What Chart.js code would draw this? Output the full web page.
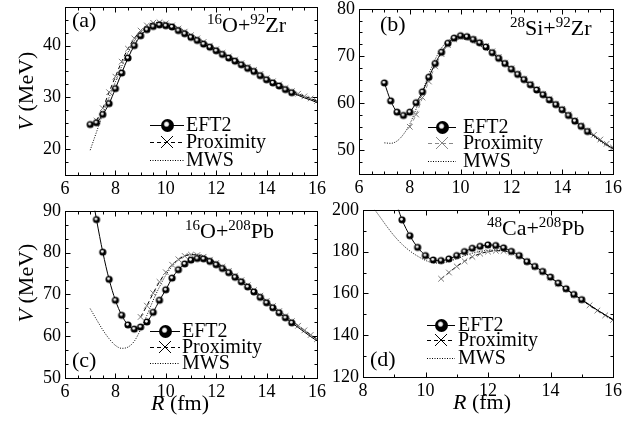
<!DOCTYPE html>
<html>
<head>
<meta charset="utf-8">
<script src="https://cdn.jsdelivr.net/npm/chart.js@4.4.1/dist/chart.umd.min.js"></script>
<style>
  body { margin: 0; background: #fff; width: 639px; height: 425px; position: relative; overflow: hidden; font-family: "Liberation Serif", serif; }
  canvas { position: absolute; }
  .t { position: absolute; white-space: nowrap; font-size: 22px; line-height: 22px; color: #000; }
  .t sup { font-size: 15px; line-height: 0; vertical-align: baseline; position: relative; top: -8px; }
  .ax { position: absolute; white-space: nowrap; font-size: 22px; line-height: 22px; color: #000; }
</style>
</head>
<body>
<canvas id="pa"></canvas>
<canvas id="pb"></canvas>
<canvas id="pc"></canvas>
<canvas id="pd"></canvas>

<div class="t" style="left:72px;top:9px">(a)</div>
<div class="t" style="left:207px;top:14px"><sup>16</sup>O+<sup>92</sup>Zr</div>
<div class="t" style="left:380px;top:13px">(b)</div>
<div class="t" style="left:510px;top:17px"><sup>28</sup>Si+<sup>92</sup>Zr</div>
<div class="t" style="left:185px;top:220px"><sup>16</sup>O+<sup>208</sup>Pb</div>
<div class="t" style="left:72px;top:349px">(c)</div>
<div class="t" style="left:487px;top:217px"><sup>48</sup>Ca+<sup>208</sup>Pb</div>
<div class="t" style="left:370px;top:348px">(d)</div>

<div class="ax" style="left:26px;top:91px;transform:translate(-50%,-50%) rotate(-90deg)"><i>V</i> (MeV)</div>
<div class="ax" style="left:26px;top:283px;transform:translate(-50%,-50%) rotate(-90deg)"><i>V</i> (MeV)</div>
<div class="ax" style="left:180px;top:403px;transform:translate(-50%,-50%)"><i>R</i> (fm)</div>
<div class="ax" style="left:482px;top:402px;transform:translate(-50%,-50%)"><i>R</i> (fm)</div>

<script>
// distance grids (fm)
const R7 = [7, 7.25, 7.5, 7.75, 8, 8.25, 8.5, 8.75, 9, 9.25, 9.5, 9.75, 10, 10.25, 10.5, 10.75,
            11, 11.25, 11.5, 11.75, 12, 12.25, 12.5, 12.75, 13, 13.25, 13.5, 13.75, 14, 14.25,
            14.5, 14.75, 15, 15.25, 15.5, 15.75, 16];
const R8 = [8, 8.25, 8.5, 8.75, 9, 9.25, 9.5, 9.75, 10, 10.25, 10.5, 10.75, 11, 11.25, 11.5,
            11.75, 12, 12.25, 12.5, 12.75, 13, 13.25, 13.5, 13.75, 14, 14.25, 14.5, 14.75, 15,
            15.25, 15.5, 15.75, 16];

const seriesNames = ['EFT2', 'Proximity', 'MWS'];

// (a) 16O+92Zr
const eftA  = [24.75, 25.1, 26.7, 28.8, 31.7, 34.7, 37.6, 40.0, 41.9, 43.1, 43.7, 44.0, 43.85, 43.6,
               42.9, 42.3, 41.6, 41.0, 40.3, 39.7, 39.0, 38.3, 37.6, 37.0, 36.3, 35.6, 35.0, 34.2,
               33.4, 32.8, 32.2, 31.5, 30.9, 30.4, 29.9, 29.5, 29.0];
const proxA = [null, 25.5, 27.9, 31.0, 34.0, 36.9, 39.4, 41.4, 42.9, 43.9, 44.4, 44.5, 44.3, 43.9,
               43.3, 42.7, 42.0, 41.4, 40.7, 40.0, 39.3, 38.6, 37.9, 37.3, 36.6, 35.9, 35.3, 34.5,
               33.7, 33.1, 32.5, 31.8, 31.2, 30.7, 30.2, 29.8, 29.3];
const mwsA  = [19.8, 23.3, 26.8, 30.0, 33.0, 36.0, 38.7, 40.9, 42.6, 43.7, 44.3, 44.5, 44.4, 44.0,
               43.4, 42.8, 42.1, 41.4, 40.7, 40.0, 39.3, 38.6, 37.9, 37.2, 36.5, 35.8, 35.2, 34.4,
               33.6, 33.0, 32.4, 31.7, 31.1, 30.6, 30.1, 29.7, 29.2];

// (b) 28Si+92Zr
const eftB  = [64.3, 60.5, 58.1, 57.4, 58.1, 60.1, 62.4, 65.5, 68.4, 70.8, 72.7, 73.8, 74.3, 74.1,
               73.5, 72.8, 71.9, 70.7, 69.5, 68.4, 67.2, 66.1, 65.0, 63.9, 62.8, 61.8, 60.7, 59.7,
               58.6, 57.4, 56.2, 55.1, 54.0, 53.1, 52.1, 51.2, 50.4];
const proxB = [null, null, null, null, 55.0, 57.6, 61.2, 64.6, 67.8, 70.4, 72.3, 73.5, 74.0, 74.0,
               73.6, 72.9, 72.1, 71.0, 69.8, 68.6, 67.4, 66.3, 65.2, 64.1, 63.0, 62.0, 60.9, 59.9,
               58.8, 57.6, 56.4, 55.3, 54.2, 53.3, 52.3, 51.4, 50.6];
const mwsB  = [51.6, 51.5, 52.0, 53.4, 55.6, 58.8, 62.5, 66.2, 69.3, 71.7, 73.2, 73.9, 73.9, 73.5,
               72.9, 72.2, 71.4, 70.4, 69.3, 68.2, 67.0, 65.9, 64.8, 63.7, 62.6, 61.6, 60.5, 59.5,
               58.4, 57.2, 56.0, 54.9, 53.8, 52.9, 51.9, 51.0, 50.2];

// (c) 16O+208Pb
const eftC  = [96.5, 87.9, 80.1, 73.6, 68.6, 65.0, 62.7, 61.7, 62.2, 63.4, 65.7, 68.6, 71.1, 73.9,
               75.9, 77.3, 78.2, 78.6, 78.5, 77.9, 77.1, 76.2, 75.2, 74.1, 73.0, 71.8, 70.6, 69.3,
               68.0, 66.8, 65.6, 64.4, 63.2, 62.1, 61.0, 59.9, 58.9];
const proxC = [null, null, null, null, null, null, null, null, 64.6, 67.3, 70.3, 73.0, 75.3, 77.1,
               78.4, 79.2, 79.5, 79.4, 79.0, 78.3, 77.5, 76.6, 75.6, 74.5, 73.4, 72.2, 71.0, 69.7,
               68.4, 67.2, 66.0, 64.8, 63.6, 62.5, 61.4, 60.3, 59.3];
const mwsC  = [66.6, 64.0, 61.5, 59.4, 57.8, 57.1, 57.4, 58.8, 61.6, 65.0, 68.6, 71.8, 74.6, 76.7,
               78.2, 79.1, 79.6, 79.6, 79.2, 78.5, 77.6, 76.7, 75.7, 74.6, 73.5, 72.3, 71.1, 69.8,
               68.5, 67.3, 66.1, 64.9, 63.7, 62.6, 61.5, 60.4, 59.4];

// (d) 48Ca+208Pb
const eftD  = [null, null, null, null, 206.0, 195.2, 187.6, 182.0, 178.1, 176.0, 175.7, 176.5, 178.1,
               180.0, 181.6, 182.5, 183.2, 182.9, 181.8, 180.1, 178.1, 175.2, 172.9, 170.5, 167.8,
               164.9, 162.2, 159.5, 157.0, 154.5, 152.0, 149.7, 147.5];
const proxD = [null, null, null, null, null, null, null, null, null, null, 167.0, 170.0, 172.9,
               175.4, 177.5, 179.0, 180.0, 180.4, 180.3, 179.6, 178.0, 175.3, 172.8, 170.3, 167.6,
               164.7, 162.0, 159.3, 156.8, 154.3, 151.8, 149.5, 147.3];
const mwsD  = [null, 202.5, 197.5, 192.3, 187.5, 183.5, 180.3, 177.8, 175.8, 174.6, 174.5, 175.3,
               176.6, 178.0, 179.2, 180.1, 180.6, 180.7, 180.4, 179.5, 178.0, 175.4, 172.9, 170.4,
               167.7, 164.8, 162.1, 159.4, 156.9, 154.4, 151.9, 149.6, 147.4];

// tick labels
const xTicks6 = [6, 8, 10, 12, 14, 16];
const xTicks8 = [8, 10, 12, 14, 16];
const yTicksA = [20, 30, 40];
const yTicksB = [50, 60, 70, 80];
const yTicksC = [50, 60, 70, 80, 90];
const yTicksD = [120, 140, 160, 180, 200];

Chart.defaults.font.family = '"Liberation Serif", serif';
Chart.defaults.font.size = 18;
Chart.defaults.color = '#000';

// black sphere marker with a white highlight
function ball(r, spot) {
  const c = document.createElement('canvas');
  c.width = c.height = Math.ceil(2 * r) + 2;
  const g = c.getContext('2d'), m = c.width / 2;
  g.fillStyle = '#000';
  g.beginPath(); g.arc(m, m, r, 0, Math.PI * 2); g.fill();
  const hx = m - r * 0.15, hy = m - r * 0.2;
  const h = g.createRadialGradient(hx, hy, 0, hx, hy, spot);
  h.addColorStop(0, 'rgba(255,255,255,1)');
  h.addColorStop(0.55, 'rgba(255,255,255,0.9)');
  h.addColorStop(1, 'rgba(255,255,255,0)');
  g.fillStyle = h; g.beginPath(); g.arc(m, m, r, 0, Math.PI * 2); g.fill();
  return c;
}
const smallBall = ball(3.6, 1.8);
const bigBall = ball(6.5, 3.2);

function pts(rs, vs) {
  return rs.map((r, i) => ({ x: r, y: vs[i] })).filter(p => p.y !== null);
}

// box frame + inward major/minor ticks on all four sides
const frame = {
  id: 'frame',
  afterDraw(chart, args, o) {
    const { ctx, chartArea: a } = chart;
    const sx = chart.scales.x, sy = chart.scales.y;
    ctx.save();
    ctx.strokeStyle = '#000';
    ctx.lineWidth = 1;
    const L = Math.round(a.left) + 0.5, T = Math.round(a.top) + 0.5;
    const Rr = Math.round(a.right) + 0.5, B = Math.round(a.bottom) + 0.5;
    ctx.strokeRect(L, T, Rr - L, B - T);
    ctx.beginPath();
    const isMaj = (v, step) => Math.abs(v / step - Math.round(v / step)) < 1e-6;
    let n = Math.round((sx.max - sx.min) / o.xMinor);
    for (let k = 0; k <= n; k++) {
      const v = sx.min + k * o.xMinor;
      const p = Math.round(sx.getPixelForValue(v)) + 0.5;
      const len = isMaj(v, o.xMajor) ? 5 : 3;
      ctx.moveTo(p, B); ctx.lineTo(p, B - len);
      ctx.moveTo(p, T); ctx.lineTo(p, T + len);
    }
    n = Math.round((sy.max - sy.min) / o.yMinor);
    for (let k = 0; k <= n; k++) {
      const v = sy.min + k * o.yMinor;
      const p = Math.round(sy.getPixelForValue(v)) + 0.5;
      const len = isMaj(v, o.yMajor) ? 5 : 3;
      ctx.moveTo(L, p); ctx.lineTo(L + len, p);
      ctx.moveTo(Rr, p); ctx.lineTo(Rr - len, p);
    }
    ctx.stroke();
    ctx.restore();
  }
};

// legend drawn inside the plot area (positions given in page pixels)
const inLegend = {
  id: 'inLegend',
  afterDatasetsDraw(chart, args, o) {
    const ctx = chart.ctx;
    const ox = o.offX, oy = o.offY;
    ctx.save();
    ctx.font = '20px "Liberation Serif", serif';
    ctx.textBaseline = 'middle';
    ctx.fillStyle = '#000';
    chart.data.datasets.forEach((ds, i) => {
      const y = o.ys[i] - oy, x0 = o.x0 - ox, x1 = o.x1 - ox, m = (x0 + x1) / 2;
      ctx.strokeStyle = i === 1 ? o.proxColor : '#000';
      ctx.lineWidth = 1;
      ctx.setLineDash(ds.borderDash || []);
      ctx.beginPath(); ctx.moveTo(x0, y + 0.5); ctx.lineTo(x1, y + 0.5); ctx.stroke();
      ctx.setLineDash([]);
      if (i === 0) ctx.drawImage(bigBall, Math.round(m - bigBall.width / 2), Math.round(y - bigBall.height / 2));
      if (i === 1) {
        ctx.beginPath();
        ctx.moveTo(m - 6, y - 6); ctx.lineTo(m + 6, y + 6);
        ctx.moveTo(m - 6, y + 6); ctx.lineTo(m + 6, y - 6);
        ctx.stroke();
      }
      ctx.fillText(ds.label, o.tx - ox, y + 1);
    });
    ctx.restore();
  }
};

function panel(id, box, xr, yr, xt, yt, ticks, rs, eft, prox, mws, legend) {
  const cv = document.getElementById(id);
  const w = box.r - box.l + 75, h = box.b - box.t + 44;
  const left = box.l - 60, top = box.t - 14;
  cv.width = w; cv.height = h;
  cv.style.left = left + 'px';
  cv.style.top = top + 'px';
  legend.offX = left; legend.offY = top;
  new Chart(cv, {
    type: 'line',
    data: {
      datasets: [
        {
          label: seriesNames[0], data: pts(rs, eft),
          borderColor: '#000', borderWidth: 1,
          pointStyle: smallBall,
          pointRadius: c => (c.raw && c.raw.x > 15.01) ? 0 : 4,
          cubicInterpolationMode: 'monotone'
        },
        {
          label: seriesNames[1], data: pts(rs, prox),
          borderColor: legend.proxColor, borderWidth: 1, borderDash: [4, 3],
          pointStyle: 'crossRot', pointRadius: 4, pointBorderColor: '#7a7a7a', pointBorderWidth: 1,
          cubicInterpolationMode: 'monotone'
        },
        {
          label: seriesNames[2], data: pts(rs, mws),
          borderColor: '#000', borderWidth: 1, borderDash: [1, 1.5],
          pointRadius: 0,
          cubicInterpolationMode: 'monotone'
        }
      ]
    },
    options: {
      responsive: false,
      animation: false,
      events: [],
      layout: { padding: { left: 0, top: 14, right: 15, bottom: 5 } },
      scales: {
        x: {
          type: 'linear', min: xr[0], max: xr[1],
          grid: { display: false, drawTicks: false },
          border: { display: false },
          ticks: { padding: 3, autoSkip: false, maxRotation: 0 },
          afterBuildTicks: s => { s.ticks = xt.map(v => ({ value: v })); },
          afterFit: s => { s.height = 25; }
        },
        y: {
          min: yr[0], max: yr[1],
          grid: { display: false, drawTicks: false },
          border: { display: false },
          ticks: { padding: 4, autoSkip: false },
          afterBuildTicks: s => { s.ticks = yt.map(v => ({ value: v })); },
          afterFit: s => { s.width = 60; }
        }
      },
      plugins: {
        legend: { display: false },
        tooltip: { enabled: false },
        frame: ticks,
        inLegend: legend
      }
    },
    plugins: [frame, inLegend]
  });
}

panel('pa', { l: 65, t: 6, r: 317, b: 175 }, [6, 16], [15, 47.5], xTicks6, yTicksA,
  { xMinor: 0.5, xMajor: 2, yMinor: 2.5, yMajor: 10 }, R7, eftA, proxA, mwsA,
  { x0: 150, x1: 184, tx: 186, ys: [125, 142, 160], proxColor: '#000' });

panel('pb', { l: 359, t: 8, r: 613, b: 174 }, [6, 16], [45, 80], xTicks6, yTicksB,
  { xMinor: 0.5, xMajor: 2, yMinor: 2.5, yMajor: 10 }, R7, eftB, proxB, mwsB,
  { x0: 428, x1: 456, tx: 463, ys: [127, 143, 161], proxColor: '#888' });

panel('pc', { l: 65, t: 210, r: 317, b: 378 }, [6, 16], [50, 90], xTicks6, yTicksC,
  { xMinor: 0.5, xMajor: 2, yMinor: 10 / 3, yMajor: 10 }, R7, eftC, proxC, mwsC,
  { x0: 150, x1: 180, tx: 182, ys: [331, 347, 363], proxColor: '#000' });

panel('pd', { l: 363, t: 209, r: 613, b: 377 }, [8, 16], [120, 200], xTicks8, yTicksD,
  { xMinor: 1, xMajor: 2, yMinor: 10, yMajor: 20 }, R8, eftD, proxD, mwsD,
  { x0: 427, x1: 455, tx: 458, ys: [325, 340, 358], proxColor: '#000' });
</script>
</body>
</html>
